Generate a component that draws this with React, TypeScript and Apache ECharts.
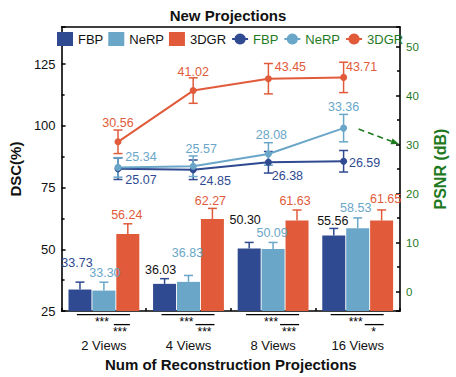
import React, { useEffect, useRef } from 'react';
import * as echarts from 'echarts';

const CATEGORIES = ['2 Views', '4 Views', '8 Views', '16 Views'];

// DSC (%) bars
const DSC_FBP = [33.73, 36.03, 50.3, 55.56];
const DSC_NERP = [33.3, 36.83, 50.09, 58.53];
const DSC_3DGR = [56.24, 62.27, 61.63, 61.65];
const DSC_ERR_FBP = [3.0, 2.1, 2.5, 2.9];
const DSC_ERR_NERP = [3.4, 2.6, 2.7, 4.2];
const DSC_ERR_3DGR = [4.1, 4.3, 4.3, 4.3];

// PSNR (dB) lines
const PSNR_FBP = [25.07, 24.85, 26.38, 26.59];
const PSNR_NERP = [25.34, 25.57, 28.08, 33.36];
const PSNR_3DGR = [30.56, 41.02, 43.45, 43.71];
const PSNR_ERR_FBP = [2.2, 2.0, 2.2, 2.2];
const PSNR_ERR_NERP = [2.0, 2.1, 2.3, 2.8];
const PSNR_ERR_3DGR = [2.4, 2.6, 3.1, 3.1];

// significance marks under each group: [FBP vs 3DGR, NeRP vs 3DGR]
const SIG_MARKS = [
  ['***', '***'],
  ['***', '***'],
  ['***', '***'],
  ['***', '*'],
];

const C_FBP = '#2f4a90';
const C_NERP = '#6aa6c8';
const C_3DGR = '#e15b3b';
const C_GREEN = '#1f7a1f';
const FONT = '"Liberation Sans", Arial, Helvetica, sans-serif';

// label offsets (styling only)
const BAR_LABEL_OFF_FBP = [[-3, -15], [-4, -2], [-4, -17], [-1, -3]];
const BAR_LABEL_OFF_NERP = [[1, -6], [-1, -17], [-1, -5], [-2, -9]];
const BAR_LABEL_OFF_3DGR = [[-1, -7], [-2, -7], [-2, -8], [4, -10]];
const BAR_LABEL_COLOR_FBP = [C_FBP, '#111', '#111', '#111'];
const LINE_LABEL_OFF_FBP = [[23, 11], [22, 11], [19, 14], [21, 2]];
const LINE_LABEL_OFF_NERP = [[23, -10], [8, -17], [3, -19], [0, -21]];
const LINE_LABEL_OFF_3DGR = [[0, -19], [0, -19], [22, -12], [18, -10]];

const BAR_W = 23;
const BAR_GAP_PX = 0.92;

function barErrSeries(vals: number[], errs: number[], color: string, k: number) {
  const off = (k - 1) * (BAR_W + BAR_GAP_PX);
  return {
    type: 'custom',
    xAxisIndex: 0,
    yAxisIndex: 0,
    z: 3,
    silent: true,
    data: vals.map((v, i) => [i, v, errs[i]]),
    renderItem: (_p: any, api: any) => {
      const i = api.value(0);
      const v = api.value(1);
      const e = api.value(2);
      const b = api.coord([i, v]);
      const t = api.coord([i, v + e]);
      const x = b[0] + off;
      const st = { stroke: color, lineWidth: 1.5 };
      return {
        type: 'group',
        children: [
          { type: 'line', shape: { x1: x, y1: b[1], x2: x, y2: t[1] }, style: st },
          { type: 'line', shape: { x1: x - 4.5, y1: t[1], x2: x + 4.5, y2: t[1] }, style: st },
        ],
      };
    },
  };
}

function lineErrSeries(vals: number[], errs: number[], color: string) {
  return {
    type: 'custom',
    xAxisIndex: 1,
    yAxisIndex: 1,
    z: 4,
    silent: true,
    data: vals.map((v, i) => [i, v, errs[i]]),
    renderItem: (_p: any, api: any) => {
      const i = api.value(0);
      const v = api.value(1);
      const e = api.value(2);
      const t = api.coord([i, v + e]);
      const b = api.coord([i, v - e]);
      const x = t[0];
      const st = { stroke: color, lineWidth: 1.5 };
      return {
        type: 'group',
        children: [
          { type: 'line', shape: { x1: x, y1: t[1], x2: x, y2: b[1] }, style: st },
          { type: 'line', shape: { x1: x - 4.5, y1: t[1], x2: x + 4.5, y2: t[1] }, style: st },
          { type: 'line', shape: { x1: x - 4.5, y1: b[1], x2: x + 4.5, y2: b[1] }, style: st },
        ],
      };
    },
  };
}

function barSeries(name: string, vals: number[], color: string, offs: number[][], labelColors: string[]) {
  return {
    name,
    type: 'bar',
    xAxisIndex: 0,
    yAxisIndex: 0,
    barWidth: BAR_W,
    barGap: '4%',
    itemStyle: { color },
    z: 2,
    data: vals.map((v, i) => ({
      value: v,
      label: { offset: offs[i], color: labelColors[i] },
    })),
    label: {
      show: true,
      position: 'top',
      fontSize: 12.5,
      fontFamily: FONT,
      formatter: (p: any) => Number(p.value).toFixed(2),
    },
  };
}

function lineSeries(name: string, vals: number[], color: string, offs: number[][]) {
  return {
    name,
    type: 'line',
    xAxisIndex: 1,
    yAxisIndex: 1,
    z: 5,
    symbol: 'circle',
    symbolSize: 7,
    lineStyle: { color, width: 2 },
    itemStyle: { color },
    data: vals.map((v, i) => ({ value: [i, v], label: { offset: offs[i] } })),
    label: {
      show: true,
      position: 'inside',
      color,
      fontSize: 12.5,
      fontFamily: FONT,
      formatter: (p: any) => Number(p.value[1]).toFixed(2),
    },
  };
}

export default function App() {
  const ref = useRef<HTMLDivElement>(null);
  useEffect(() => {
    if (!ref.current) return;
    const chart = echarts.init(ref.current, null, { renderer: 'svg' });
    const axisLine = { show: true, onZero: false, lineStyle: { color: '#000', width: 1.6 } };
    const option: any = {
      animation: false,
      backgroundColor: '#fff',
      textStyle: { fontFamily: FONT },
      title: {
        text: 'New Projections',
        left: 'center',
        top: 3,
        textStyle: { fontSize: 15, fontWeight: 'bold', color: '#111', fontFamily: FONT },
      },
      legend: {
        left: 57,
        top: 32,
        padding: 0,
        itemWidth: 16,
        itemHeight: 14,
        itemGap: 5,
        textStyle: { fontSize: 13, fontFamily: FONT },
        formatter: (n: string) => n.replace('_PSNR', ''),
        data: [
          { name: 'FBP', icon: 'rect', textStyle: { color: '#111' } },
          { name: 'NeRP', icon: 'rect', textStyle: { color: '#111' } },
          { name: '3DGR', icon: 'rect', textStyle: { color: '#111' } },
          { name: 'FBP_PSNR', textStyle: { color: C_GREEN } },
          { name: 'NeRP_PSNR', textStyle: { color: C_GREEN } },
          { name: '3DGR_PSNR', textStyle: { color: C_GREEN } },
        ],
      },
      grid: { left: 55, right: 39, top: 27, bottom: 58, containLabel: false },
      xAxis: [
        {
          type: 'category',
          data: CATEGORIES,
          position: 'bottom',
          axisLine,
          axisTick: { show: true, inside: true, length: 3, lineStyle: { color: '#000', width: 1.5 } },
          axisLabel: { margin: 28, fontSize: 13, color: '#111', fontFamily: FONT },
          name: 'Num of Reconstruction Projections',
          nameLocation: 'middle',
          nameGap: 40,
          nameTextStyle: { fontSize: 15, fontWeight: 'bold', color: '#111', fontFamily: FONT },
          splitLine: { show: false },
        },
        {
          type: 'value',
          position: 'top',
          min: -0.75,
          max: 3.75,
          axisLine,
          axisTick: { show: false },
          axisLabel: { show: false },
          splitLine: { show: false },
        },
      ],
      yAxis: [
        {
          type: 'value',
          position: 'left',
          min: 25,
          max: 140,
          interval: 25,
          axisLine,
          axisTick: { show: true, inside: true, length: 4, lineStyle: { color: '#000', width: 1.5 } },
          minorTick: { show: true, splitNumber: 2, length: 3, lineStyle: { color: '#000', width: 1.5 } },
          axisLabel: {
            fontSize: 13,
            color: '#111',
            fontFamily: FONT,
            margin: 6,
            formatter: (v: number) => (v % 25 === 0 && v <= 125 ? String(v) : ''),
          },
          splitLine: { show: false },
          name: 'DSC(%)',
          nameLocation: 'middle',
          nameRotate: 90,
          nameGap: 34,
          nameTextStyle: { fontSize: 15, fontWeight: 'bold', color: '#111', fontFamily: FONT },
        },
        {
          type: 'value',
          position: 'right',
          min: -4,
          max: 54,
          splitNumber: 5,
          axisLine,
          axisTick: { show: true, inside: true, length: 4, lineStyle: { color: '#000', width: 1.5 } },
          minorTick: { show: true, splitNumber: 2, length: 3, lineStyle: { color: '#000', width: 1.5 } },
          axisLabel: {
            fontSize: 11.5,
            color: C_GREEN,
            fontFamily: FONT,
            margin: 6,
            formatter: (v: number) => (v % 10 === 0 && v >= 0 && v <= 50 ? String(v) : ''),
          },
          splitLine: { show: false },
          name: 'PSNR (dB)',
          nameLocation: 'middle',
          nameRotate: 90,
          nameGap: 32,
          nameTextStyle: { fontSize: 16, fontWeight: 'bold', color: C_GREEN, fontFamily: FONT },
        },
      ],
      series: [
        barSeries('FBP', DSC_FBP, C_FBP, BAR_LABEL_OFF_FBP, BAR_LABEL_COLOR_FBP),
        barSeries('NeRP', DSC_NERP, C_NERP, BAR_LABEL_OFF_NERP, DSC_NERP.map(() => C_NERP)),
        barSeries('3DGR', DSC_3DGR, C_3DGR, BAR_LABEL_OFF_3DGR, DSC_3DGR.map(() => C_3DGR)),
        barErrSeries(DSC_FBP, DSC_ERR_FBP, C_FBP, 0),
        barErrSeries(DSC_NERP, DSC_ERR_NERP, C_NERP, 1),
        barErrSeries(DSC_3DGR, DSC_ERR_3DGR, C_3DGR, 2),
        lineErrSeries(PSNR_FBP, PSNR_ERR_FBP, C_FBP),
        lineErrSeries(PSNR_NERP, PSNR_ERR_NERP, C_NERP),
        lineErrSeries(PSNR_3DGR, PSNR_ERR_3DGR, C_3DGR),
        lineSeries('FBP_PSNR', PSNR_FBP, C_FBP, LINE_LABEL_OFF_FBP),
        lineSeries('NeRP_PSNR', PSNR_NERP, C_NERP, LINE_LABEL_OFF_NERP),
        lineSeries('3DGR_PSNR', PSNR_3DGR, C_3DGR, LINE_LABEL_OFF_3DGR),
      ],
    };
    chart.setOption(option);

    // annotations computed from the chart's own scales
    const y0 = chart.convertToPixel({ yAxisIndex: 0 }, 25) as number;
    const graphics: any[] = [];
    CATEGORIES.forEach((cat, i) => {
      const c = chart.convertToPixel({ xAxisIndex: 0 }, cat) as number;
      const l1 = y0 + 3.5;
      const l2 = y0 + 13.5;
      const ls = { stroke: '#000', lineWidth: 1.3 };
      graphics.push({ type: 'line', shape: { x1: c - 27, y1: l1, x2: c + 26, y2: l1 }, style: ls });
      graphics.push({ type: 'line', shape: { x1: c + (i === 0 ? 10 : 7), y1: l2, x2: c + 26, y2: l2 }, style: ls });
      graphics.push({
        type: 'text', x: c - 2, y: l1 + 1,
        style: { text: SIG_MARKS[i][0], fontSize: 12, fontFamily: FONT, fill: '#000', align: 'center', verticalAlign: 'top' },
      });
      graphics.push({
        type: 'text', x: c + 16, y: l2 + 1,
        style: { text: SIG_MARKS[i][1], fontSize: 12, fontFamily: FONT, fill: '#000', align: 'center', verticalAlign: 'top' },
      });
    });
    const p = chart.convertToPixel({ xAxisIndex: 1, yAxisIndex: 1 }, [3, PSNR_NERP[3]]) as number[];
    const xr = chart.convertToPixel({ xAxisIndex: 1 }, 3.75) as number;
    const sx = p[0] + 15, sy = p[1] + 1;
    const tx = xr - 1, ty = p[1] + 16;
    const dx = tx - sx, dy = ty - sy;
    const len = Math.sqrt(dx * dx + dy * dy);
    const ux = dx / len, uy = dy / len;
    const bx = tx - ux * 8, by = ty - uy * 8;
    graphics.push({
      type: 'line',
      shape: { x1: sx, y1: sy, x2: bx, y2: by },
      style: { stroke: C_GREEN, lineWidth: 1.6, lineDash: [6, 4] },
    });
    graphics.push({
      type: 'polygon',
      shape: { points: [[tx, ty], [bx - uy * 3, by + ux * 3], [bx + uy * 3, by - ux * 3]] },
      style: { fill: C_GREEN },
    });
    chart.setOption({ graphic: graphics });

    return () => chart.dispose();
  }, []);
  return <div ref={ref} style={{ position: 'fixed', left: 0, top: 0, width: 456, height: 377 }} />;
}
